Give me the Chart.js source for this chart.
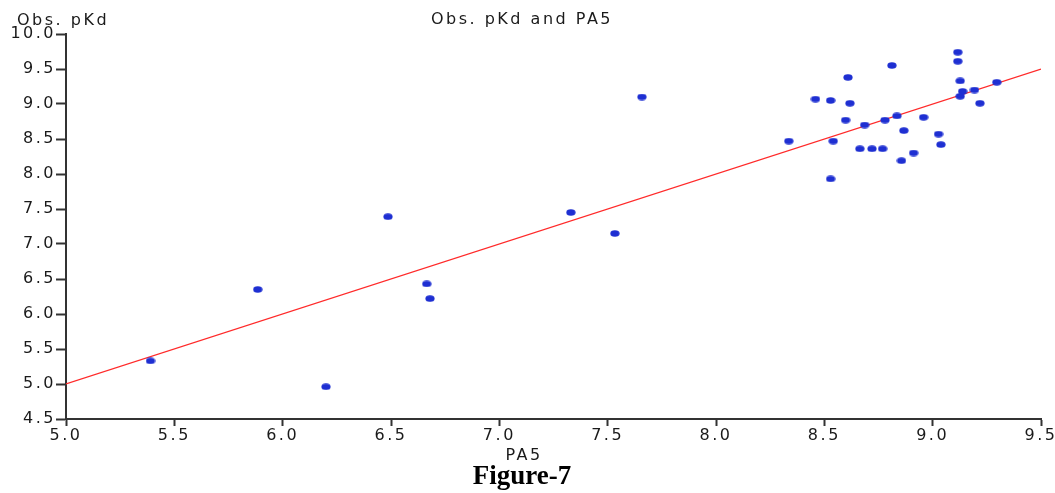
<!DOCTYPE html>
<html>
<head>
<meta charset="utf-8">
<script src="https://cdn.jsdelivr.net/npm/chart.js@4.4.1/dist/chart.umd.min.js"></script>
<style>
  html, body { margin: 0; padding: 0; background: #ffffff; }
  #wrap { position: relative; width: 1055px; height: 493px; }
  canvas { display: block; }
</style>
</head>
<body>
<div id="wrap"><canvas id="c" width="1055" height="493"></canvas></div>
<script>
// ---- data ----
const pa5 = [5.39, 5.885, 6.20, 6.486, 6.665, 6.68, 7.33, 7.533, 7.658,
  8.336, 8.459, 8.529, 8.541, 8.529, 8.598, 8.609, 8.618, 8.664, 8.686,
  8.72, 8.769, 8.78, 8.812, 8.835, 8.856, 8.867, 8.912, 8.958, 9.027,
  9.038, 9.116, 9.116, 9.127, 9.138, 9.127, 9.193, 9.218, 9.296];
const obsPkd = [5.33, 6.35, 4.96, 7.39, 6.43, 6.22, 7.45, 7.15, 9.10,
  8.47, 9.07, 9.05, 8.47, 7.93, 8.77, 9.38, 9.01, 8.36, 8.70,
  8.36, 8.36, 8.77, 9.55, 8.83, 8.19, 8.62, 8.30, 8.81, 8.57,
  8.42, 9.74, 9.61, 9.33, 9.18, 9.11, 9.20, 9.01, 9.31];
const fitX = [5.0, 9.5];
const fitY = [5.0, 9.5];
const xTicks = [5.0, 5.5, 6.0, 6.5, 7.0, 7.5, 8.0, 8.5, 9.0, 9.5];
const yTicks = [4.5, 5.0, 5.5, 6.0, 6.5, 7.0, 7.5, 8.0, 8.5, 9.0, 9.5, 10.0];
const chartTitle = 'Obs. pKd and PA5';
const yTitle = 'Obs. pKd';
const xTitle = 'PA5';
const caption = 'Figure-7';

// ---- marker ----
const dot = document.createElement('canvas');
dot.width = 10; dot.height = 7;
(function () {
  const g = dot.getContext('2d');
  g.fillStyle = '#1e2fd2';
  g.beginPath();
  g.ellipse(5, 3.5, 4.6, 3.2, 0, 0, Math.PI * 2);
  g.fill();
})();

const SP = '2.5px';
const textPlugin = {
  id: 'texts',
  beforeDraw(chart) { chart.ctx.letterSpacing = SP; },
  afterDraw(chart) {
    const ctx = chart.ctx;
    ctx.save();
    ctx.fillStyle = '#1a1a1a';
    ctx.letterSpacing = SP;
    ctx.font = '16px "DejaVu Sans"';
    ctx.textBaseline = 'middle';
    ctx.textAlign = 'center';
    ctx.fillText(chartTitle, 522, 20);
    ctx.fillText(xTitle, 524, 456);
    ctx.textAlign = 'left';
    ctx.fillText(yTitle, 17, 21);
    ctx.letterSpacing = '0px';
    ctx.fillStyle = '#000';
    ctx.font = 'bold 27px "Liberation Serif"';
    ctx.textAlign = 'center';
    ctx.fillText(caption, 522, 477);
    ctx.restore();
  }
};

Chart.defaults.font.family = '"DejaVu Sans"';
Chart.defaults.font.size = 16;
Chart.defaults.color = '#1a1a1a';

new Chart(document.getElementById('c'), {
  type: 'scatter',
  data: {
    datasets: [
      {
        label: 'Obs. pKd',
        data: pa5.map((x, i) => ({ x: x, y: obsPkd[i] })),
        pointStyle: dot,
        pointRadius: 5,
        pointHoverRadius: 5,
        showLine: false,
        order: 1
      },
      {
        label: 'Fit',
        type: 'line',
        data: fitX.map((x, i) => ({ x: x, y: fitY[i] })),
        borderColor: '#ff2a2a',
        borderWidth: 1.3,
        pointRadius: 0,
        fill: false,
        order: 2
      }
    ]
  },
  options: {
    responsive: false,
    animation: false,
    events: [],
    layout: { padding: { top: 34, right: 14, left: 0, bottom: 0 } },
    plugins: { legend: { display: false }, title: { display: false }, tooltip: { enabled: false } },
    scales: {
      x: {
        type: 'linear',
        min: xTicks[0], max: xTicks[xTicks.length - 1],
        afterBuildTicks: s => { s.ticks = xTicks.map(v => ({ value: v })); },
        afterFit: s => { s.height = 74; s.paddingLeft = 0; s.paddingRight = 0; },
        grid: { drawOnChartArea: false, drawTicks: true, tickLength: 7, tickWidth: 2, tickColor: '#333' },
        border: { display: true, color: '#333', width: 2 },
        ticks: { autoSkip: false, maxRotation: 0, padding: 0, callback: v => Number(v).toFixed(1) }
      },
      y: {
        type: 'linear',
        min: yTicks[0], max: yTicks[yTicks.length - 1],
        afterBuildTicks: s => { s.ticks = yTicks.map(v => ({ value: v })); },
        afterFit: s => { s.width = 66; s.paddingTop = 0; s.paddingBottom = 0; },
        grid: { drawOnChartArea: false, drawTicks: true, tickLength: 10, tickWidth: 2, tickColor: '#333' },
        border: { display: true, color: '#333', width: 2 },
        ticks: { autoSkip: false, padding: 0, callback: v => Number(v).toFixed(1) }
      }
    }
  },
  plugins: [textPlugin]
});
</script>
</body>
</html>
